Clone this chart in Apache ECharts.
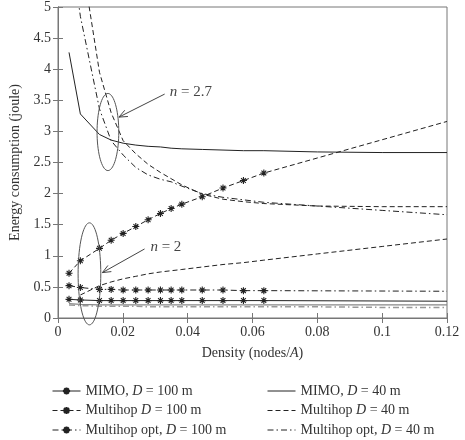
<!DOCTYPE html>
<html>
<head>
<meta charset="utf-8">
<script src="https://cdn.jsdelivr.net/npm/echarts@6/dist/echarts.min.js"></script>
<style>
  html, body { margin: 0; padding: 0; background: #fff; }
  #chart { width: 465px; height: 440px; }
</style>
</head>
<body>
<div id="chart"></div>
<script>
// densities where the D = 100 m curves carry a marker (last point 0.12 is the line end)
const densityD100 = [0.0034, 0.0069, 0.0128, 0.0164, 0.0201, 0.024, 0.0278, 0.0316, 0.0349, 0.0382, 0.0445, 0.0509, 0.0572, 0.0635, 0.12]
const markerCount = 14
const mimo100 = [0.30, 0.29, 0.28, 0.28, 0.28, 0.28, 0.28, 0.28, 0.28, 0.28, 0.28, 0.28, 0.28, 0.28, 0.27]
const multihop100 = [0.72, 0.92, 1.12, 1.25, 1.36, 1.47, 1.58, 1.68, 1.76, 1.83, 1.95, 2.09, 2.21, 2.33, 3.16]
const multihopOpt100 = [0.52, 0.49, 0.46, 0.46, 0.45, 0.45, 0.45, 0.45, 0.45, 0.45, 0.45, 0.45, 0.44, 0.44, 0.43]

// densities for the D = 40 m curves
const densityD40 = [0.0034, 0.0069, 0.0128, 0.0164, 0.0201, 0.024, 0.0278, 0.0316, 0.0349, 0.0382, 0.0445, 0.0509, 0.0572, 0.0635, 0.08, 0.1, 0.12]
// n = 2.7
const mimo40n27 = [4.27, 3.28, 2.95, 2.86, 2.81, 2.78, 2.76, 2.75, 2.73, 2.72, 2.71, 2.70, 2.69, 2.69, 2.67, 2.66, 2.66]
const multihop40n27 = [null, 5.9, 3.95, 3.3, 2.85, 2.64, 2.47, 2.34, 2.24, 2.14, 1.99, 1.91, 1.87, 1.84, 1.80, 1.79, 1.79]
const multihopOpt40n27 = [6.2, 4.85, 3.36, 2.85, 2.62, 2.42, 2.30, 2.23, 2.19, 2.12, 2.0, 1.94, 1.90, 1.86, 1.80, 1.73, 1.66]
// n = 2
const mimo40n2 = [0.23, 0.22, 0.21, 0.21, 0.21, 0.21, 0.21, 0.21, 0.21, 0.21, 0.21, 0.21, 0.21, 0.21, 0.21, 0.21, 0.21]
const multihop40n2 = [null, 0.37, 0.52, 0.58, 0.63, 0.67, 0.71, 0.74, 0.76, 0.78, 0.82, 0.86, 0.89, 0.93, 1.03, 1.15, 1.27]
const multihopOpt40n2 = [0.21, 0.20, 0.19, 0.19, 0.19, 0.19, 0.18, 0.18, 0.18, 0.18, 0.18, 0.18, 0.18, 0.18, 0.18, 0.17, 0.17]

const seriesNames = ['MIMO, D = 100 m', 'Multihop D = 100 m', 'Multihop opt, D = 100 m', 'MIMO, D = 40 m', 'Multihop D = 40 m', 'Multihop opt, D = 40 m']

const FONT = 'Liberation Serif'
const INK = '#222'
const STAR = 'path://M5 0L5 10M0 5L10 5M1.6 1.6L8.4 8.4M1.6 8.4L8.4 1.6'
const DASH = [5, 3]
const DASHDOT = [6, 3, 1.5, 3]

function pairs(xs, ys, marks) {
  return xs.map((x, i) => {
    const p = { value: [x, ys[i] == null ? '-' : ys[i]] }
    if (marks != null && i >= marks) p.symbol = 'none'
    return p
  })
}

function starLine(name, ys, dash) {
  return {
    name,
    type: 'line',
    data: pairs(densityD100, ys, markerCount),
    symbol: STAR,
    symbolSize: 7,
    showAllSymbol: true,
    lineStyle: { color: INK, width: 1, type: dash },
    itemStyle: { color: INK, borderColor: INK, borderWidth: 1.1 },
    animation: false
  }
}

function plainLine(name, ys, dash, color, width) {
  return {
    name,
    type: 'line',
    data: pairs(densityD40, ys),
    symbol: 'none',
    lineStyle: { color, width, type: dash },
    // hides the placeholder dot that the legend icon would draw
    itemStyle: { color, opacity: 0 },
    animation: false
  }
}

const axisCommon = {
  axisLine: { show: true, lineStyle: { color: '#777' } },
  axisTick: { show: true, inside: true, length: 5, lineStyle: { color: '#777' } },
  splitLine: { show: false }
}

const legendCommon = {
  orient: 'vertical',
  top: 384,
  padding: 0,
  itemWidth: 28,
  itemHeight: 9,
  itemGap: 5.5,
  selectedMode: false,
  lineStyle: { width: 1 },
  formatter: name => name.replace(' D ', ' {i|D} '),
  textStyle: {
    fontFamily: FONT,
    fontSize: 14,
    lineHeight: 14,
    color: '#333',
    rich: { i: { fontFamily: FONT, fontSize: 14, lineHeight: 14, fontStyle: 'italic', color: '#333' } }
  }
}

const option = {
  backgroundColor: '#fff',
  animation: false,
  grid: { left: 52, right: 18, top: 7, bottom: 122, show: true, borderColor: '#777', borderWidth: 1 },
  xAxis: [
    Object.assign({
      type: 'value', min: 0, max: 0.12, interval: 0.02,
      name: 'Density (nodes/{i|A})',
      nameLocation: 'middle',
      nameGap: 28,
      nameTextStyle: {
        fontFamily: FONT, fontSize: 14, color: '#333',
        rich: { i: { fontFamily: FONT, fontSize: 14, fontStyle: 'italic', color: '#333' } }
      },
      axisLabel: { fontFamily: FONT, fontSize: 14, color: '#333', margin: 7, formatter: v => String(+v.toFixed(2)) }
    }, axisCommon),
    Object.assign({
      type: 'value', min: 0, max: 0.12, interval: 0.02, position: 'top',
      axisLabel: { show: false }
    }, axisCommon)
  ],
  yAxis: [
    Object.assign({
      type: 'value', min: 0, max: 5, interval: 0.5,
      name: 'Energy consumption (joule)',
      nameLocation: 'middle',
      nameGap: 36,
      nameTextStyle: { fontFamily: FONT, fontSize: 14, color: '#333' },
      axisLabel: { fontFamily: FONT, fontSize: 14, color: '#333', margin: 7, formatter: v => String(+v.toFixed(1)) }
    }, axisCommon),
    Object.assign({
      type: 'value', min: 0, max: 5, interval: 0.5, position: 'right',
      axisLabel: { show: false }
    }, axisCommon)
  ],
  legend: [
    Object.assign({ left: 52, data: seriesNames.slice(0, 3) }, legendCommon),
    Object.assign({ left: 267, data: seriesNames.slice(3) }, legendCommon)
  ],
  series: [
    starLine(seriesNames[0], mimo100, 'solid'),
    starLine(seriesNames[1], multihop100, DASH),
    starLine(seriesNames[2], multihopOpt100, DASHDOT),
    plainLine(seriesNames[3], mimo40n27, 'solid', INK, 1),
    plainLine(seriesNames[4], multihop40n27, DASH, INK, 1),
    plainLine(seriesNames[5], multihopOpt40n27, DASHDOT, INK, 1),
    plainLine(seriesNames[3], mimo40n2, 'solid', '#888', 1.3),
    plainLine(seriesNames[4], multihop40n2, DASH, INK, 1),
    plainLine(seriesNames[5], multihopOpt40n2, DASHDOT, '#999', 1.5)
  ]
}

const chart = echarts.init(document.getElementById('chart'))
chart.setOption(option)

// annotations: ellipses, arrows and "n = ..." labels, placed in data coordinates
const toPx = p => chart.convertToPixel({ xAxisIndex: 0, yAxisIndex: 0 }, p)

function ellipse(center, rx, ry) {
  const c = toPx(center)
  const e = toPx([center[0] + rx, center[1] + ry])
  const a = e[0] - c[0]
  const b = c[1] - e[1]
  const pts = []
  for (let k = 0; k <= 72; k++) {
    const t = k / 72 * Math.PI * 2
    pts.push([c[0] + a * Math.cos(t), c[1] + b * Math.sin(t)])
  }
  return { type: 'polyline', shape: { points: pts }, style: { stroke: '#555', fill: null, lineWidth: 1 }, z: 10 }
}

function arrow(from, to) {
  const p0 = toPx(from)
  const p1 = toPx(to)
  const ang = Math.atan2(p0[1] - p1[1], p0[0] - p1[0])
  const len = 9
  const h1 = [p1[0] + len * Math.cos(ang + 0.4), p1[1] + len * Math.sin(ang + 0.4)]
  const h2 = [p1[0] + len * Math.cos(ang - 0.4), p1[1] + len * Math.sin(ang - 0.4)]
  return [
    { type: 'line', shape: { x1: p0[0], y1: p0[1], x2: p1[0], y2: p1[1] }, style: { stroke: '#444', lineWidth: 1 }, z: 10 },
    { type: 'polyline', shape: { points: [h1, p1, h2] }, style: { stroke: '#444', fill: null, lineWidth: 1 }, z: 10 }
  ]
}

function label(at, text) {
  const p = toPx(at)
  return {
    type: 'text', x: p[0], y: p[1], z: 10,
    style: {
      text, fontFamily: FONT, fontSize: 15, fill: '#444',
      verticalAlign: 'middle', align: 'left',
      rich: { i: { fontFamily: FONT, fontSize: 15, fontStyle: 'italic', fill: '#444' } }
    }
  }
}

chart.setOption({
  graphic: [
    ellipse([0.0154, 2.99], 0.00335, 0.62),
    ellipse([0.0097, 0.71], 0.0035, 0.82),
    ...arrow([0.0329, 3.6], [0.0188, 3.23]),
    ...arrow([0.0267, 1.11], [0.0137, 0.73]),
    label([0.0345, 3.63], '{i|n} = 2.7'),
    label([0.0285, 1.14], '{i|n} = 2')
  ]
})
</script>
</body>
</html>
